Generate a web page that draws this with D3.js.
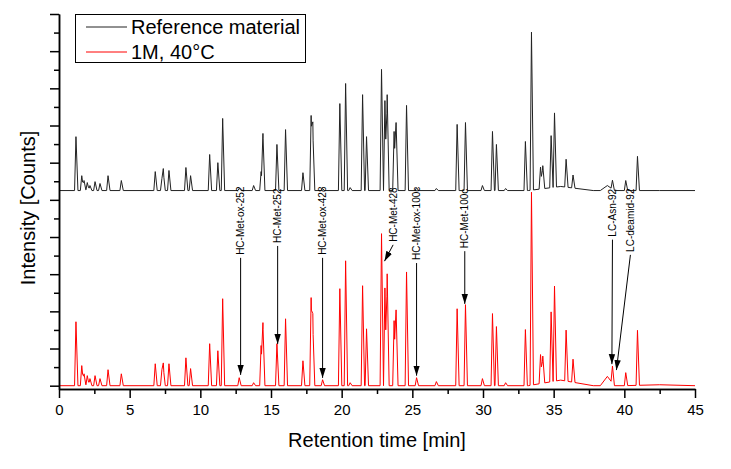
<!DOCTYPE html>
<html>
<head>
<meta charset="utf-8">
<script src="https://cdn.jsdelivr.net/npm/d3@7"></script>
<style>
    body { margin: 0; background: #fff; }
    text { font-family: "Liberation Sans", Arial, sans-serif; fill: #000; }
</style>
</head>
<body>
<div id="viz"></div>
<script>
// peaks (retention time [min], height [counts])
var peakTimes = [
    1.20, 1.61, 1.77, 2.00, 2.19, 2.55, 2.90, 3.47, 4.41,
    6.81, 7.28, 7.38, 7.78, 8.98, 9.31, 10.66, 11.24, 11.58,
    12.75, 13.77, 14.30, 14.43, 15.42, 16.03, 17.26, 17.84, 17.96,
    18.65, 19.87, 20.28, 20.60, 21.48, 21.76, 22.82, 23.06, 23.22,
    23.71, 23.85, 24.59, 25.30, 26.70, 28.17, 28.76, 29.96, 30.67,
    30.95, 31.60, 33.00, 33.43, 34.07, 34.23, 34.82, 35.06, 35.88,
    36.37, 39.16, 40.10, 40.93
];
var refHeights = [
    1450, 400, 270, 215, 135, 240, 190, 400, 270,
    510, 320, 500, 540, 620, 400, 970, 750, 1940,
    55, 135, 510, 1500, 1240, 1640, 480, 2020, 1560,
    55, 2340, 2880, 80, 2580, 1450, 3260, 2420, 2580,
    1590, 1830, 2290, 80, 55, 1780, 1830, 135, 1590,
    1240, 55, 1320, 4250, 590, 620, 1400, 2000, 750,
    350, 240, 270, 920
];
var stressHeights = [
    1720, 540, 320, 270, 190, 270, 190, 430, 320,
    590, 430, 490, 590, 750, 460, 1130, 940, 2340,
    215, 80, 1080, 1620, 1130, 1800, 670, 2370, 1600,
    160, 2610, 3360, 80, 2690, 1530, 4090, 2630, 3010,
    1750, 2040, 3060, 215, 110, 2070, 2180, 190, 1940,
    1590, 80, 1510, 5190, 780, 730, 1880, 2560, 1370,
    620, 460, 350, 1480
];

// broad baseline humps
var humpTimes = [35.5, 38.8, 42.5];
var humpWidths = [2.3, 0.5, 2.5];
var refHumps = [110, 135, 0];
var stressHumps = [150, 250, 25];

// the reference trace is shifted up in the plot
var refOffset = 5250;

var seriesNames = ['Reference material', '1M, 40°C'];
var xTickValues = [0, 5, 10, 15, 20, 25, 30, 35, 40, 45];
var xTickLabels = ['0', '5', '10', '15', '20', '25', '30', '35', '40', '45'];

// annotations: label, text position (time, counts), arrow tip (time, counts)
var annLabels = ['HC-Met-ox-252', 'HC-Met-252', 'HC-Met-ox-428', 'HC-Met-428',
    'HC-Met-ox-100c', 'HC-Met-100c', 'LC-Asn-92', 'LC-deamid-92'];
var annTextTimes = [12.85, 15.47, 18.65, 23.64, 25.30, 28.71, 39.16, 40.43];
var annTextLevels = [3520, 3840, 3520, 3870, 3380, 3700, 4010, 3600];
var annTipTimes = [12.85, 15.47, 18.65, 23.03, 25.30, 28.71, 39.12, 39.44];
var annTipLevels = [290, 1120, 210, 3350, 270, 2200, 580, 420];

var width = 731,
    height = 469;

var x = d3.scaleLinear().domain([0, 45]).range([59, 695]);
var y = d3.scaleLinear().domain([-89, 10000]).range([389, 14]);

// sum of narrow (slightly tailing) triangular peaks and broad humps
function buildTrace(heights, humps, offset) {
    var shapes = [];
    peakTimes.forEach(function (t, i) {
        shapes.push({ t: t, h: heights[i], l: 0.1, r: 0.14 });
    });
    humpTimes.forEach(function (t, i) {
        shapes.push({ t: t, h: humps[i], l: humpWidths[i], r: humpWidths[i] });
    });
    var pts = [0, 45];
    shapes.forEach(function (s) {
        pts.push(s.t - s.l, s.t, s.t + s.r);
    });
    pts = pts.filter(function (t) { return t >= 0 && t <= 45; }).sort(d3.ascending);
    return pts.map(function (t) {
        var v = 0;
        shapes.forEach(function (s) {
            if (t >= s.t - s.l && t <= s.t) {
                v += s.h * (1 - (s.t - t) / s.l);
            } else if (t > s.t && t <= s.t + s.r) {
                v += s.h * (1 - (t - s.t) / s.r);
            }
        });
        return [t, v + offset];
    });
}

var svg = d3.select('#viz').append('svg')
    .attr('width', width)
    .attr('height', height)
    .style('display', 'block');

svg.append('rect').attr('width', width).attr('height', height).attr('fill', '#fff');

svg.append('defs').append('marker')
    .attr('id', 'arrow')
    .attr('markerUnits', 'userSpaceOnUse')
    .attr('markerWidth', 10)
    .attr('markerHeight', 8)
    .attr('viewBox', '0 -4 10 8')
    .attr('refX', 10)
    .attr('refY', 0)
    .attr('orient', 'auto')
    .append('path')
    .attr('d', 'M0,-3.2L10,0L0,3.2Z')
    .attr('fill', '#000');

var line = d3.line()
    .x(function (d) { return x(d[0]); })
    .y(function (d) { return y(d[1]); });

svg.append('path')
    .datum(buildTrace(refHeights, refHumps, refOffset))
    .attr('d', line)
    .attr('fill', 'none')
    .attr('stroke', '#222')
    .attr('stroke-width', 1);

svg.append('path')
    .datum(buildTrace(stressHeights, stressHumps, 0))
    .attr('d', line)
    .attr('fill', 'none')
    .attr('stroke', '#f00')
    .attr('stroke-width', 1);

// axes
var xMajor = svg.append('g')
    .attr('transform', 'translate(0,389)')
    .call(d3.axisBottom(x).tickValues(xTickValues)
        .tickFormat(function (d, i) { return xTickLabels[i]; })
        .tickSize(9).tickSizeOuter(0).tickPadding(6));
svg.append('g')
    .attr('transform', 'translate(0,389)')
    .call(d3.axisBottom(x).tickValues(d3.range(2.5, 45, 5))
        .tickFormat('').tickSize(5).tickSizeOuter(0));

svg.append('g')
    .attr('transform', 'translate(59,0)')
    .call(d3.axisLeft(y).tickValues(d3.range(0, 10001, 1000))
        .tickFormat('').tickSize(9).tickSizeOuter(0));
svg.append('g')
    .attr('transform', 'translate(59,0)')
    .call(d3.axisLeft(y).tickValues(d3.range(500, 10000, 1000))
        .tickFormat('').tickSize(5).tickSizeOuter(0));

svg.selectAll('.domain, .tick line')
    .attr('stroke', '#000')
    .attr('stroke-width', 1.5);
xMajor.selectAll('text')
    .attr('font-size', 15)
    .attr('font-family', '"Liberation Sans", Arial, sans-serif')
    .attr('fill', '#000');

svg.append('text')
    .attr('x', 377)
    .attr('y', 447)
    .attr('text-anchor', 'middle')
    .attr('font-size', 20)
    .text('Retention time [min]');

svg.append('text')
    .attr('transform', 'translate(35,208) rotate(-90)')
    .attr('text-anchor', 'middle')
    .attr('font-size', 20)
    .text('Intensity [Counts]');

// annotations
annLabels.forEach(function (label, i) {
    var tx = x(annTextTimes[i]),
        ty = y(annTextLevels[i]);
    svg.append('text')
        .attr('transform', 'translate(' + tx + ',' + ty + ') rotate(-90)')
        .attr('dy', '0.35em')
        .attr('font-size', 10)
        .text(label);
    svg.append('line')
        .attr('x1', tx)
        .attr('y1', ty + 3)
        .attr('x2', x(annTipTimes[i]))
        .attr('y2', y(annTipLevels[i]))
        .attr('stroke', '#000')
        .attr('stroke-width', 1)
        .attr('marker-end', 'url(#arrow)');
});

// legend
var legend = svg.append('g');
legend.append('rect')
    .attr('x', 75.5)
    .attr('y', 14.5)
    .attr('width', 230)
    .attr('height', 48)
    .attr('fill', '#fff')
    .attr('stroke', '#000')
    .attr('stroke-width', 1);
var legendColors = ['#222', '#f00'];
seriesNames.forEach(function (name, i) {
    var ly = 27 + i * 25;
    legend.append('line')
        .attr('x1', 86).attr('x2', 127)
        .attr('y1', ly).attr('y2', ly)
        .attr('stroke', legendColors[i])
        .attr('stroke-width', 1);
    legend.append('text')
        .attr('x', 131)
        .attr('y', ly + 7)
        .attr('font-size', 20)
        .text(name);
});
</script>
</body>
</html>
